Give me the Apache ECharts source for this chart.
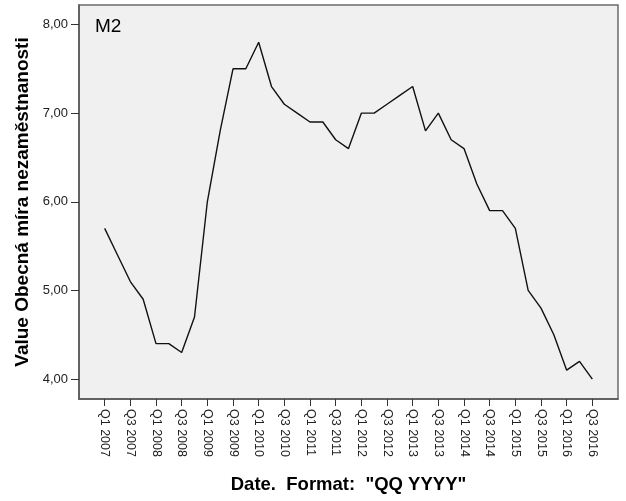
<!DOCTYPE html>
<html>
<head>
<meta charset="utf-8">
<script src="https://cdn.jsdelivr.net/npm/echarts@6/dist/echarts.min.js"></script>
<style>
  html, body { margin: 0; padding: 0; background: #ffffff; }
  #chart { width: 626px; height: 501px; }
</style>
</head>
<body>
<div id="chart"></div>
<script>
// Quarterly categories Q1 2007 .. Q3 2016
const categories = [
  "Q1 2007","Q2 2007","Q3 2007","Q4 2007",
  "Q1 2008","Q2 2008","Q3 2008","Q4 2008",
  "Q1 2009","Q2 2009","Q3 2009","Q4 2009",
  "Q1 2010","Q2 2010","Q3 2010","Q4 2010",
  "Q1 2011","Q2 2011","Q3 2011","Q4 2011",
  "Q1 2012","Q2 2012","Q3 2012","Q4 2012",
  "Q1 2013","Q2 2013","Q3 2013","Q4 2013",
  "Q1 2014","Q2 2014","Q3 2014","Q4 2014",
  "Q1 2015","Q2 2015","Q3 2015","Q4 2015",
  "Q1 2016","Q2 2016","Q3 2016"
];
// Obecná míra nezaměstnanosti (M2)
const values = [
  5.7, 5.4, 5.1, 4.9,
  4.4, 4.4, 4.3, 4.7,
  6.0, 6.8, 7.5, 7.5,
  7.8, 7.3, 7.1, 7.0,
  6.9, 6.9, 6.7, 6.6,
  7.0, 7.0, 7.1, 7.2,
  7.3, 6.8, 7.0, 6.7,
  6.6, 6.2, 5.9, 5.9,
  5.7, 5.0, 4.8, 4.5,
  4.1, 4.2, 4.0
];
// Labelled categories (every other quarter)
const xTickLabels = [
  "Q1 2007","Q3 2007","Q1 2008","Q3 2008","Q1 2009","Q3 2009","Q1 2010",
  "Q3 2010","Q1 2011","Q3 2011","Q1 2012","Q3 2012","Q1 2013","Q3 2013",
  "Q1 2014","Q3 2014","Q1 2015","Q3 2015","Q1 2016","Q3 2016"
];
const yTickValues = [4, 5, 6, 7, 8];

const xTickIdx = xTickLabels.map(l => categories.indexOf(l));
const FONT = "'Liberation Sans', Arial, Helvetica, sans-serif";

const chart = echarts.init(document.getElementById('chart'), null, { renderer: 'canvas' });
chart.setOption({
  animation: false,
  backgroundColor: '#ffffff',
  title: {
    text: 'M2',
    left: 90,
    top: 12,
    textStyle: { fontFamily: FONT, fontSize: 19, fontWeight: 'normal', color: '#000' }
  },
  grid: {
    left: 79, right: 8, top: 5, bottom: 102,
    show: true,
    backgroundColor: '#f0f0f0',
    borderColor: '#6a6a6a',
    borderWidth: 1.5
  },
  xAxis: {
    type: 'value',
    min: -2,
    max: 40,
    name: 'Date.  Format:  "QQ YYYY"',
    nameLocation: 'middle',
    nameGap: 76,
    nameTextStyle: { fontFamily: FONT, fontSize: 18.5, fontWeight: 'bold', color: '#000' },
    splitLine: { show: false },
    axisLine: { show: true, onZero: false, lineStyle: { color: '#555', width: 1.5 } },
    axisTick: {
      show: true, length: 7, inside: false,
      customValues: xTickIdx,
      lineStyle: { color: '#333', width: 1 }
    },
    axisLabel: {
      show: true,
      customValues: xTickIdx,
      rotate: -90,
      margin: 10,
      fontFamily: FONT,
      fontSize: 12.5,
      color: '#222',
      formatter: v => categories[Math.round(v)] || ''
    }
  },
  yAxis: {
    type: 'value',
    min: 3.775,
    max: 8.22,
    name: 'Value Obecná míra nezaměstnanosti',
    nameLocation: 'middle',
    nameGap: 46,
    nameTextStyle: { fontFamily: FONT, fontSize: 19, fontWeight: 'bold', color: '#000' },
    splitLine: { show: false },
    axisLine: { show: true, onZero: false, lineStyle: { color: '#555', width: 1.5 } },
    axisTick: {
      show: true, length: 8, inside: false,
      customValues: yTickValues,
      lineStyle: { color: '#333', width: 1 }
    },
    axisLabel: {
      show: true,
      customValues: yTickValues,
      margin: 11,
      fontFamily: FONT,
      fontSize: 13,
      color: '#222',
      formatter: v => v.toFixed(2).replace('.', ',')
    }
  },
  series: [{
    type: 'line',
    data: values.map((v, i) => [i, v]),
    showSymbol: false,
    symbol: 'none',
    lineStyle: { color: '#111', width: 1.4 },
    z: 3
  }]
});
</script>
</body>
</html>
